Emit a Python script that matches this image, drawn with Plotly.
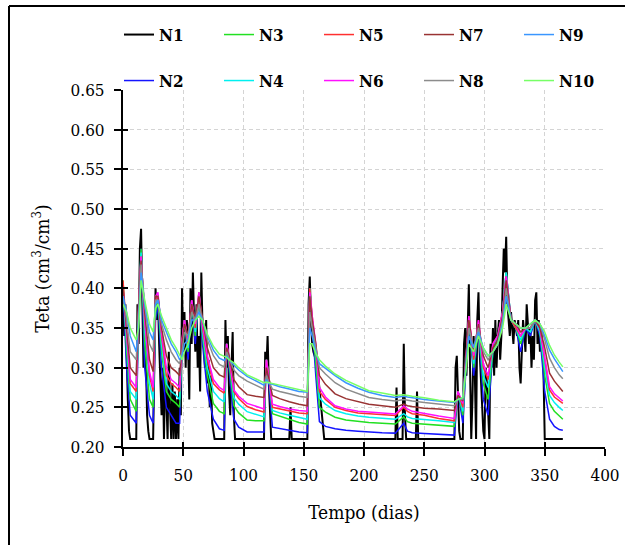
import plotly.graph_objects as go

# ---------------- data ----------------
N1_DAYS = [0,1,2,3,4,5,6,11,12,13,14,15,16,17,18,19,20,21,22,25,26,27,28,29,30,31,32,33,34,35,36,37,38,39,40,
           41,42,43,44,45,46,47,48,49,50,51,52,53,54,55,56,57,58,59,60,61,62,63,64,65,66,67,68,69,70,71,72,73,74,75,
           76,84,85,86,87,88,89,90,91,92,93,117,118,119,120,121,122,123,138,139,140,153,154,155,156,157,158,160,162,
           164,166,167,226,227,228,232,233,234,235,243,244,245,275,276,277,278,279,280,282,283,284,285,286,287,288,
           289,290,291,292,293,294,295,296,297,298,299,300,301,302,303,304,305,306,307,308,309,310,311,312,313,314,
           315,316,317,318,319,320,321,322,323,324,325,326,327,328,329,330,331,332,333,334,335,336,337,338,339,340,
           341,342,343,344,345,346,347,348,349,350,365]
N1 = [0.40,0.34,0.38,0.30,0.26,0.22,0.21,0.21,0.38,0.33,0.45,0.475,0.37,0.30,0.38,0.28,0.24,0.22,0.21,0.21,
      0.34,0.40,0.36,0.39,0.33,0.28,0.24,0.30,0.21,0.29,0.26,0.21,0.32,0.25,0.21,0.28,0.21,0.27,0.21,0.26,
      0.21,0.30,0.24,0.40,0.32,0.37,0.30,0.36,0.33,0.26,0.40,0.33,0.42,0.36,0.32,0.38,0.30,0.34,0.27,0.42,
      0.35,0.33,0.30,0.36,0.28,0.31,0.25,0.29,0.23,0.22,0.21,0.21,0.36,0.30,0.34,0.27,0.24,0.30,0.345,0.24,
      0.21,0.21,0.32,0.30,0.34,0.28,0.24,0.21,0.21,0.25,0.21,0.21,0.38,0.415,0.36,0.33,0.32,0.31,0.29,0.26,
      0.23,0.21,0.21,0.275,0.21,0.21,0.33,0.24,0.21,0.21,0.27,0.21,0.21,0.30,0.315,0.25,0.22,0.21,0.21,0.33,
      0.35,0.29,0.37,0.405,0.30,0.21,0.26,0.34,0.29,0.21,0.36,0.395,0.32,0.28,0.25,0.22,0.21,0.30,0.28,0.24,
      0.21,0.33,0.30,0.35,0.29,0.36,0.30,0.34,0.36,0.31,0.34,0.40,0.45,0.42,0.465,0.38,0.36,0.34,0.37,0.35,
      0.33,0.36,0.35,0.34,0.36,0.30,0.28,0.33,0.36,0.34,0.32,0.38,0.35,0.33,0.35,0.30,0.34,0.31,0.385,0.395,
      0.33,0.36,0.32,0.35,0.33,0.29,0.21,0.21]

DAYS = [0,3,6,11,13,15,18,22,25,27,29,32,36,40,44,47,49,51,54,57,60,63,66,70,75,80,84,86,88,92,
        96,103,110,117,119,121,124,130,138,146,153,155,157,160,163,168,176,185,195,204,215,226,233,236,240,
        250,262,275,278,282,287,291,295,299,303,307,311,315,318,322,326,330,334,338,342,346,350,354,358,362,365]

N2 = [.40,.30,.24,.23,.36,.45,.30,.24,.23,.36,.38,.30,.25,.24,.23,.23,.33,.36,.31,.38,
      .33,.39,.33,.27,.235,.223,.221,.33,.30,.235,.225,.219,.219,.219,.31,.28,.225,.223,.221,.219,
      .218,.40,.35,.29,.232,.226,.223,.221,.22,.219,.218,.2175,.23,.22,.218,.217,.216,.215,.27,.23,
      .36,.29,.35,.26,.24,.32,.33,.37,.42,.36,.35,.32,.35,.34,.36,.34,.27,.235,.226,.222,.221]
N3 = [.41,.32,.26,.245,.37,.45,.33,.26,.25,.37,.385,.32,.27,.26,.255,.25,.33,.36,.32,.38,
      .34,.39,.34,.29,.255,.245,.242,.33,.305,.252,.243,.234,.233,.233,.31,.29,.242,.239,.235,.231,
      .229,.40,.36,.31,.25,.244,.2375,.234,.232,.231,.23,.229,.238,.232,.23,.229,.228,.226,.27,.24,
      .36,.30,.35,.28,.26,.32,.335,.37,.42,.36,.35,.33,.35,.345,.36,.345,.29,.255,.245,.239,.235]
N4 = [.40,.33,.27,.26,.37,.445,.35,.28,.26,.38,.39,.33,.28,.27,.265,.26,.33,.36,.325,.385,
      .345,.395,.345,.30,.27,.261,.257,.33,.31,.262,.254,.2445,.241,.238,.31,.29,.246,.243,.24,.237,
      .235,.40,.36,.32,.262,.254,.246,.242,.239,.2375,.236,.235,.242,.238,.236,.235,.233,.231,.27,.245,
      .36,.305,.355,.29,.275,.325,.34,.37,.42,.36,.35,.335,.35,.345,.36,.345,.30,.265,.256,.25,.246]
N5 = [.41,.34,.28,.27,.38,.44,.36,.29,.27,.385,.39,.34,.29,.28,.275,.27,.335,.36,.33,.385,
      .35,.395,.35,.31,.28,.272,.268,.33,.31,.27,.261,.251,.247,.244,.31,.29,.25,.248,.245,.243,
      .242,.40,.365,.325,.27,.26,.25,.246,.243,.242,.241,.2396,.25,.245,.242,.24,.236,.233,.27,.25,
      .365,.31,.36,.30,.285,.33,.34,.37,.415,.36,.35,.34,.35,.35,.36,.35,.31,.272,.263,.258,.255]
N6 = [.40,.34,.285,.275,.38,.44,.36,.295,.275,.39,.395,.345,.30,.285,.28,.275,.335,.36,.335,.385,
      .355,.395,.355,.315,.285,.275,.271,.33,.315,.272,.264,.255,.251,.248,.31,.29,.254,.251,.248,.246,
      .245,.395,.365,.33,.275,.263,.252,.248,.245,.244,.243,.2417,.252,.248,.245,.242,.239,.236,.27,.255,
      .365,.315,.36,.305,.29,.33,.34,.37,.415,.36,.355,.34,.35,.35,.36,.35,.315,.276,.267,.262,.258]
N7 = [.40,.35,.30,.29,.38,.435,.37,.31,.295,.39,.39,.35,.315,.30,.295,.29,.33,.355,.34,.38,
      .36,.39,.36,.325,.30,.291,.288,.325,.315,.285,.276,.266,.264,.2625,.30,.285,.265,.261,.257,.254,
      .252,.39,.36,.33,.29,.279,.267,.261,.257,.254,.252,.25,.254,.252,.251,.249,.248,.246,.265,.258,
      .36,.32,.355,.315,.30,.325,.335,.365,.41,.36,.355,.345,.35,.35,.36,.35,.325,.293,.283,.275,.27]
N8 = [.39,.36,.32,.31,.37,.43,.38,.33,.32,.385,.385,.355,.335,.32,.31,.305,.32,.345,.34,.37,
      .36,.38,.36,.335,.315,.304,.301,.32,.312,.297,.29,.283,.278,.273,.29,.282,.273,.27,.267,.264,
      .2625,.37,.35,.325,.30,.292,.281,.273,.267,.2625,.26,.258,.26,.259,.258,.256,.254,.252,.26,.26,
      .35,.325,.35,.32,.31,.32,.33,.36,.40,.36,.355,.35,.35,.35,.36,.355,.335,.312,.30,.291,.286]
N9 = [.39,.37,.34,.32,.36,.42,.38,.345,.335,.38,.385,.36,.345,.33,.32,.31,.315,.33,.335,.36,
      .36,.37,.36,.34,.322,.312,.309,.315,.31,.303,.297,.289,.283,.278,.285,.28,.279,.276,.273,.27,
      .269,.35,.34,.32,.305,.299,.29,.281,.274,.269,.265,.2625,.264,.263,.262,.26,.258,.256,.26,.262,
      .34,.325,.345,.325,.315,.32,.33,.355,.39,.36,.355,.35,.35,.355,.36,.355,.34,.322,.311,.302,.295]
N10 = [.38,.37,.35,.335,.35,.41,.385,.355,.345,.375,.38,.365,.35,.335,.325,.315,.31,.32,.33,.35,
       .36,.365,.36,.342,.327,.317,.314,.313,.31,.306,.30,.291,.286,.281,.282,.281,.28,.278,.275,.272,
       .27,.33,.33,.318,.31,.302,.292,.284,.277,.271,.268,.265,.266,.265,.264,.262,.259,.257,.26,.262,
       .33,.32,.34,.325,.315,.32,.33,.35,.38,.36,.355,.35,.35,.355,.36,.355,.345,.328,.316,.307,.301]

NAMES = ["N1", "N2", "N3", "N4", "N5", "N6", "N7", "N8", "N9", "N10"]
COLORS = ["#000000", "#1414ff", "#22e022", "#00f0f0", "#ff3030",
          "#ff10ff", "#993333", "#8c8c8c", "#3a96ff", "#77ff66"]
X_TICKS = [0, 50, 100, 150, 200, 250, 300, 350, 400]
Y_TICKS = [0.20, 0.25, 0.30, 0.35, 0.40, 0.45, 0.50, 0.55, 0.60, 0.65]

series = [(N1_DAYS, N1)] + [(DAYS, s) for s in (N2, N3, N4, N5, N6, N7, N8, N9, N10)]
for d, v in series:
    assert len(d) == len(v)

# ---------------- figure ----------------
W, H = 625, 545
ML, MR, MT, MB = 123, 20, 90, 98
PW, PH = W - ML - MR, H - MT - MB

def px_x(p):   # pixel x -> paper
    return (p - ML) / PW

def px_y(p):   # pixel y -> paper
    return (H - MB - p) / PH

FONT = "'DejaVu Serif Condensed', 'DejaVu Serif', serif"

fig = go.Figure()
for i, ((d, v), name, col) in enumerate(zip(series, NAMES, COLORS)):
    fig.add_trace(go.Scatter(
        x=d, y=v, mode="lines", name=name,
        line=dict(color=col, width=2 if i == 0 else 1.5),
        legend="legend" if i % 2 == 0 else "legend2",
        legendrank=i // 2 + 1,
    ))

# invisible trace to carry the overlay axes (inner halves of tick marks)
fig.add_trace(go.Scatter(x=N1_DAYS, y=N1, xaxis="x2", yaxis="y2", mode="lines",
                         line=dict(width=0), opacity=0, showlegend=False, hoverinfo="skip"))

axis_common = dict(showline=True, linecolor="black", linewidth=2,
                   ticks="outside", ticklen=7, tickwidth=2, tickcolor="black",
                   showgrid=True, gridcolor="#d4d4d4", griddash="4px,3px", gridwidth=1,
                   zeroline=False,
                   tickfont=dict(family=FONT, size=17, color="black"),
                   title_font=dict(family=FONT, size=19, color="black"))

legend_common = dict(orientation="h", xanchor="left", yanchor="middle",
                     entrywidth=55, entrywidthmode="pixels",
                     font=dict(family=FONT, size=17, color="black", weight="bold"),
                     bgcolor="rgba(0,0,0,0)", borderwidth=0, itemwidth=30)

fig.update_layout(
    width=W, height=H,
    margin=dict(l=ML, r=MR, t=MT, b=MB, autoexpand=False),
    paper_bgcolor="white", plot_bgcolor="white",
    font=dict(family=FONT, color="black"),
    showlegend=True,
    legend=dict(x=px_x(119), y=px_y(35), **legend_common),
    legend2=dict(x=px_x(119), y=px_y(81), **legend_common),
    xaxis=dict(range=[0, 400], tickvals=X_TICKS, ticktext=[str(t) for t in X_TICKS],
               title=dict(text="Tempo (dias)", standoff=21), ticklabelstandoff=5, **axis_common),
    yaxis=dict(range=[0.2, 0.65], tickvals=Y_TICKS, ticktext=[f"{t:.2f}" for t in Y_TICKS],
               title=dict(text="Teta (cm<sup>3</sup>/cm<sup>3</sup>)", standoff=16),
               ticklabelstandoff=6, **axis_common),
    xaxis2=dict(overlaying="x", matches="x", anchor="y2", range=[0, 400], tickvals=X_TICKS,
                ticks="inside", ticklen=5, tickwidth=2, tickcolor="black",
                showticklabels=False, showgrid=False, showline=False, zeroline=False),
    yaxis2=dict(overlaying="y", matches="y", anchor="x2", side="left", range=[0.2, 0.65], tickvals=Y_TICKS,
                ticks="inside", ticklen=5, tickwidth=2, tickcolor="black",
                showticklabels=False, showgrid=False, showline=False, zeroline=False),
    shapes=[
        dict(type="line", xref="paper", yref="paper", x0=px_x(9), x1=px_x(W + 2),
             y0=px_y(6), y1=px_y(6), line=dict(color="black", width=2)),
        dict(type="line", xref="paper", yref="paper", x0=px_x(9), x1=px_x(9),
             y0=px_y(6), y1=px_y(H + 2), line=dict(color="black", width=2)),
    ],
)

fig.write_html("out.html")
